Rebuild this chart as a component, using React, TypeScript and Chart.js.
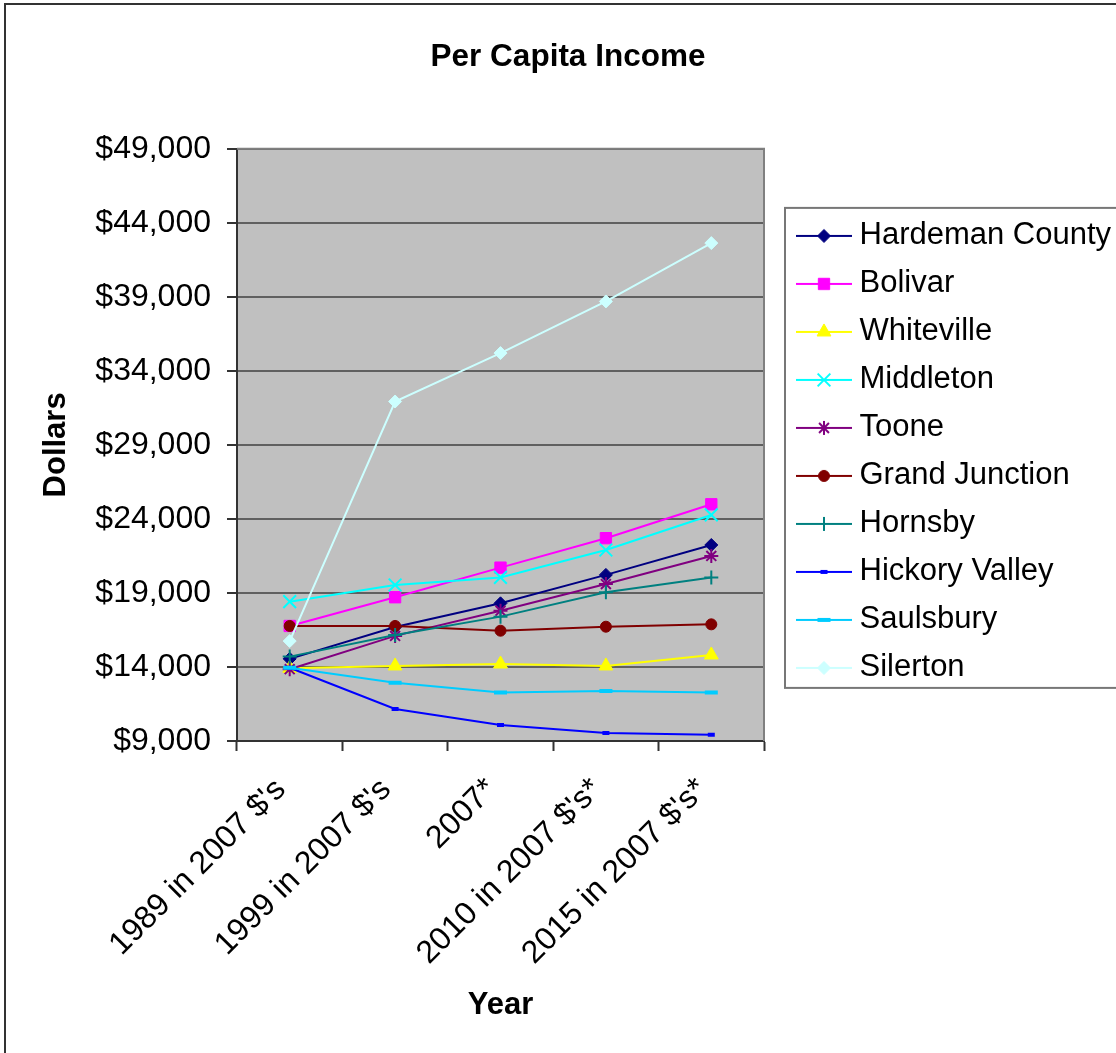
import React, { useEffect, useRef } from 'react';
import { Chart, registerables } from 'chart.js';

Chart.register(...registerables);

// ---------- data ----------
const categories = ["1989 in 2007 $'s", "1999 in 2007 $'s", '2007*', "2010 in 2007 $'s*", "2015 in 2007 $'s*"];

const seriesNames = [
  'Hardeman County',
  'Bolivar',
  'Whiteville',
  'Middleton',
  'Toone',
  'Grand Junction',
  'Hornsby',
  'Hickory Valley',
  'Saulsbury',
  'Silerton',
];

const hardemanCounty = [14550, 16700, 18300, 20220, 22240];
const bolivar = [16770, 18710, 20710, 22700, 24990];
const whiteville = [13910, 14070, 14200, 14070, 14810];
const middleton = [18410, 19540, 20050, 21900, 24270];
const toone = [13850, 16100, 17800, 19600, 21500];
const grandJunction = [16770, 16770, 16450, 16720, 16880];
const hornsby = [14700, 16160, 17400, 19050, 20040];
const hickoryValley = [13950, 11160, 10080, 9540, 9430];
const saulsbury = [13950, 12940, 12270, 12380, 12270];
const silerton = [15750, 31930, 35200, 38690, 42630];

const seriesValues = [
  hardemanCounty,
  bolivar,
  whiteville,
  middleton,
  toone,
  grandJunction,
  hornsby,
  hickoryValley,
  saulsbury,
  silerton,
];

const yMin = 9000;
const yMax = 49000;
const yStep = 5000;

const chartTitle = 'Per Capita Income';
const xTitle = 'Year';
const yTitle = 'Dollars';

// ---------- styles ----------
const FONT = "'Liberation Sans', Arial, Helvetica, sans-serif";

const seriesStyles = [
  { color: '#000080', style: 'rectRot', radius: 6.5, bw: 1 },
  { color: '#FF00FF', style: 'rect', radius: 8, bw: 1 },
  { color: '#FFFF00', style: 'triangle', radius: 8, bw: 1 },
  { color: '#00FFFF', style: 'crossRot', radius: 9, bw: 2 },
  { color: '#800080', style: 'star', radius: 7, bw: 2 },
  { color: '#800000', style: 'circle', radius: 5.5, bw: 1 },
  { color: '#008080', style: 'cross', radius: 7, bw: 2 },
  { color: '#0000FF', style: 'line', radius: 3.5, bw: 4 },
  { color: '#00CCFF', style: 'line', radius: 6.5, bw: 4 },
  { color: '#CCFFFF', style: 'rectRot', radius: 6.5, bw: 1 },
];

function drawMarker(g: CanvasRenderingContext2D, style: string, x: number, y: number, r: number, color: string, bw: number) {
  g.save();
  g.fillStyle = color;
  g.strokeStyle = color;
  g.lineWidth = bw;
  g.beginPath();
  const d = r * Math.SQRT1_2;
  switch (style) {
    case 'circle':
      g.arc(x, y, r, 0, Math.PI * 2);
      g.closePath();
      g.fill();
      g.stroke();
      break;
    case 'rect':
      g.rect(x - d, y - d, 2 * d, 2 * d);
      g.fill();
      g.stroke();
      break;
    case 'rectRot':
      g.moveTo(x - r, y);
      g.lineTo(x, y - r);
      g.lineTo(x + r, y);
      g.lineTo(x, y + r);
      g.closePath();
      g.fill();
      g.stroke();
      break;
    case 'triangle': {
      const c = Math.cos(Math.PI / 6) * r;
      g.moveTo(x, y - r);
      g.lineTo(x + c, y + r / 2);
      g.lineTo(x - c, y + r / 2);
      g.closePath();
      g.fill();
      g.stroke();
      break;
    }
    case 'crossRot':
      g.moveTo(x - d, y - d);
      g.lineTo(x + d, y + d);
      g.moveTo(x - d, y + d);
      g.lineTo(x + d, y - d);
      g.stroke();
      break;
    case 'cross':
      g.moveTo(x, y - r);
      g.lineTo(x, y + r);
      g.moveTo(x - r, y);
      g.lineTo(x + r, y);
      g.stroke();
      break;
    case 'star':
      g.moveTo(x, y - r);
      g.lineTo(x, y + r);
      g.moveTo(x - r, y);
      g.lineTo(x + r, y);
      g.moveTo(x - d, y - d);
      g.lineTo(x + d, y + d);
      g.moveTo(x - d, y + d);
      g.lineTo(x + d, y - d);
      g.stroke();
      break;
    case 'line':
      g.moveTo(x - r, y);
      g.lineTo(x + r, y);
      g.stroke();
      break;
  }
  g.restore();
}

const LEGEND_W = 352;
const LEGEND_PAD = 17;
const LEGEND_FONT = 31;
const POINT_W = 63;
const LINE_X0 = 796;
const LINE_X1 = 852;
const MARK_X = 824;

function makeLegendImage(color: string, style: string, r: number, bw: number, boxX: number) {
  const centerX = boxX + POINT_W / 2;
  const half = Math.max(LINE_X1 - centerX, centerX - LINE_X0);
  const w = Math.ceil(half * 2);
  const left = centerX - w / 2;
  const c = document.createElement('canvas');
  c.width = w;
  c.height = 24;
  const g = c.getContext('2d') as CanvasRenderingContext2D;
  g.strokeStyle = color;
  g.lineWidth = 2;
  g.beginPath();
  g.moveTo(LINE_X0 - left, 12);
  g.lineTo(LINE_X1 - left, 12);
  g.stroke();
  drawMarker(g, style, MARK_X - left, 12, r, color, bw);
  return c;
}

const framePlugin = {
  id: 'frame',
  beforeLayout(chart: any) {
    const lg = chart.legend;
    if (lg && !lg.__patched) {
      const orig = lg.fit.bind(lg);
      lg.fit = function () {
        orig();
        this.width = LEGEND_W;
      };
      lg.__patched = true;
    }
  },
  afterLayout(chart: any) {
    const lg = chart.legend;
    if (lg) {
      lg.top += 7;
      lg.bottom += 7;
    }
  },
  beforeDraw(chart: any) {
    const { ctx, chartArea: a } = chart;
    ctx.save();
    ctx.fillStyle = '#ffffff';
    ctx.fillRect(0, 0, chart.width, chart.height);
    ctx.fillStyle = '#c0c0c0';
    ctx.fillRect(a.left, a.top, a.right - a.left, a.bottom - a.top);
    ctx.fillStyle = '#333333';
    ctx.fillRect(4, 3, 2, chart.height);
    ctx.fillRect(4, 3, chart.width, 2);
    ctx.restore();
  },
  beforeDatasetsDraw(chart: any) {
    const { ctx, chartArea: a } = chart;
    ctx.save();
    ctx.strokeStyle = '#808080';
    ctx.lineWidth = 2;
    ctx.beginPath();
    ctx.moveTo(a.left, a.top);
    ctx.lineTo(a.right, a.top);
    ctx.lineTo(a.right, a.bottom);
    ctx.stroke();
    ctx.restore();
  },
  afterDraw(chart: any) {
    const lg = chart.legend;
    if (!lg || !lg.columnSizes || !lg.columnSizes[0]) return;
    const colH = lg.columnSizes[0].height;
    const startY = (lg.top + LEGEND_PAD + lg.bottom - colH) / 2;
    const row0 = startY + LEGEND_FONT / 2;
    const n = chart.data.datasets.length;
    const step = LEGEND_FONT + LEGEND_PAD;
    const top = row0 - 28;
    const bottom = row0 + (n - 1) * step + 20;
    const { ctx } = chart;
    ctx.save();
    ctx.strokeStyle = '#777777';
    ctx.lineWidth = 2;
    ctx.strokeRect(785, top, 400, bottom - top);
    ctx.restore();
  },
};

export default function App() {
  const ref = useRef<HTMLCanvasElement | null>(null);

  useEffect(() => {
    if (!ref.current) return;
    Chart.defaults.font.family = FONT;
    const boxX = 1116 - LEGEND_W + LEGEND_PAD;
    const images = seriesStyles.map((s) => makeLegendImage(s.color, s.style, s.radius, s.bw, boxX));

    const datasets = seriesNames.map((name, i) => {
      const s = seriesStyles[i];
      return {
        label: name,
        data: seriesValues[i],
        borderColor: s.color,
        backgroundColor: s.color,
        borderWidth: 2,
        pointStyle: s.style,
        pointRadius: s.radius,
        pointHoverRadius: s.radius,
        pointBackgroundColor: s.color,
        pointBorderColor: s.color,
        pointBorderWidth: s.bw,
        fill: false,
        tension: 0,
        order: seriesNames.length - i,
      };
    });

    const chart = new Chart(ref.current, {
      type: 'line',
      data: { labels: categories, datasets: datasets as any },
      plugins: [framePlugin as any],
      options: {
        animation: false,
        responsive: false,
        devicePixelRatio: 1,
        layout: { padding: { left: 20, right: 0, top: 10, bottom: 0 } },
        plugins: {
          tooltip: { enabled: false },
          title: {
            display: true,
            text: chartTitle,
            color: '#000',
            font: { size: 31.5, weight: 'bold', family: FONT },
            padding: { top: 28, bottom: 73 },
          },
          legend: {
            display: true,
            position: 'right',
            fullSize: false,
            labels: {
              usePointStyle: true,
              pointStyleWidth: POINT_W,
              padding: LEGEND_PAD,
              color: '#000',
              font: { size: LEGEND_FONT, family: FONT },
              generateLabels: (ch: any) =>
                ch.data.datasets.map((ds: any, i: number) => ({
                  text: ds.label,
                  fillStyle: ds.borderColor,
                  strokeStyle: ds.borderColor,
                  lineWidth: 0,
                  hidden: false,
                  datasetIndex: i,
                  pointStyle: images[i],
                  fontColor: '#000',
                })),
            },
          },
        },
        scales: {
          x: {
            type: 'category',
            offset: true,
            afterFit: (scale: any) => {
              scale.height = 312;
            },
            grid: {
              display: true,
              drawOnChartArea: false,
              drawTicks: true,
              tickLength: 10,
              offset: true,
              tickColor: '#333',
              tickWidth: 2,
            },
            border: { display: true, color: '#333', width: 2 },
            ticks: {
              autoSkip: false,
              maxRotation: 45,
              minRotation: 45,
              padding: 20,
              labelOffset: -9,
              color: '#000',
              font: { size: 32, family: FONT },
            },
            title: {
              display: true,
              text: xTitle,
              color: '#000',
              font: { size: 31, weight: 'bold', family: FONT },
              padding: { top: 4, bottom: 29 },
            },
          },
          y: {
            type: 'linear',
            min: yMin,
            max: yMax,
            afterFit: (scale: any) => {
              scale.width = 217;
            },
            grid: {
              color: '#606060',
              lineWidth: 2,
              drawTicks: true,
              tickLength: 10,
              tickColor: '#333',
              tickWidth: 2,
            },
            border: { display: true, color: '#333', width: 2 },
            ticks: {
              stepSize: yStep,
              padding: 16,
              color: '#000',
              font: { size: 32, family: FONT },
              callback: (v: any) => '$' + Number(v).toLocaleString('en-US'),
            },
            title: {
              display: true,
              text: yTitle,
              color: '#000',
              font: { size: 31, weight: 'bold', family: FONT },
              padding: { top: 18, bottom: 4 },
            },
          },
        },
      } as any,
    });

    return () => {
      chart.destroy();
    };
  }, []);

  return (
    <div style={{ position: 'absolute', left: 0, top: 0, width: 1116, height: 1053, overflow: 'hidden', background: '#fff' }}>
      <canvas ref={ref} width={1116} height={1053} style={{ display: 'block' }} />
    </div>
  );
}
